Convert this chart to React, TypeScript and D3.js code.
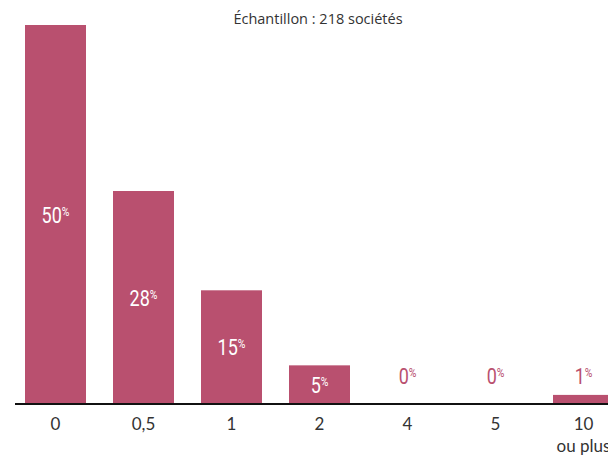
import React from "react";
import * as d3 from "d3";

const categories = ["0", "0,5", "1", "2", "4", "5", "10"];
const subLabels = ["", "", "", "", "", "", "ou plus"];
const values = [50, 28.1, 15, 5.1, 0, 0, 1.2];
const valueLabels = ["50", "28", "15", "5", "0", "0", "1"];
const title = "Échantillon : 218 sociétés";

const W = 608;
const H = 455;
const BAR = "#b9506f";

export default function App() {
  const p = 27 / 88;
  const x = d3
    .scaleBand<string>()
    .domain(categories)
    .range([11.5, 627.5])
    .paddingInner(p)
    .paddingOuter(p / 2);
  const y = d3.scaleLinear().domain([0, 50]).range([404, 25]);
  const bw = x.bandwidth();
  const numFont = "Roboto, 'DejaVu Sans', sans-serif";
  const txtFont = "Lato, 'Open Sans', sans-serif";

  return (
    <svg
      width={W}
      height={H}
      style={{ position: "absolute", left: 0, top: 0, background: "#fff" }}
    >
      <text
        x={318}
        y={24}
        textAnchor="middle"
        fontFamily="'Open Sans', Lato, sans-serif"
        fontSize={14.5}
        fill="#333"
      >
        {title}
      </text>
      {categories.map((c, i) => {
        const x0 = x(c)!;
        const yTop = y(values[i]);
        const h = y(0) - yTop;
        const inside = h > 30;
        const cy = inside ? (yTop + y(0)) / 2 : 376;
        const cx = x0 + bw / 2;
        return (
          <g key={c}>
            {h > 0 && <rect x={x0} y={yTop} width={bw} height={h} fill={BAR} />}
            <text
              transform={`translate(${cx},${cy + 8}) scale(0.8,1)`}
              textAnchor="middle"
              fontFamily={numFont}
              fontWeight={400}
              fill={inside ? "#fff" : BAR}
            >
              <tspan fontSize={22.5}>{valueLabels[i]}</tspan>
              <tspan fontSize={13} dy={-7}>%</tspan>
            </text>
            <text
              x={cx}
              y={430}
              textAnchor="middle"
              fontFamily={txtFont}
              fontSize={17}
              fill="#333"
            >
              {c}
            </text>
            {subLabels[i] && (
              <text
                x={cx}
                y={452}
                textAnchor="middle"
                fontFamily={txtFont}
                fontSize={17}
                fill="#333"
              >
                {subLabels[i]}
              </text>
            )}
          </g>
        );
      })}
      <line x1={15} x2={W} y1={404} y2={404} stroke="#111" strokeWidth={2.2} />
    </svg>
  );
}
